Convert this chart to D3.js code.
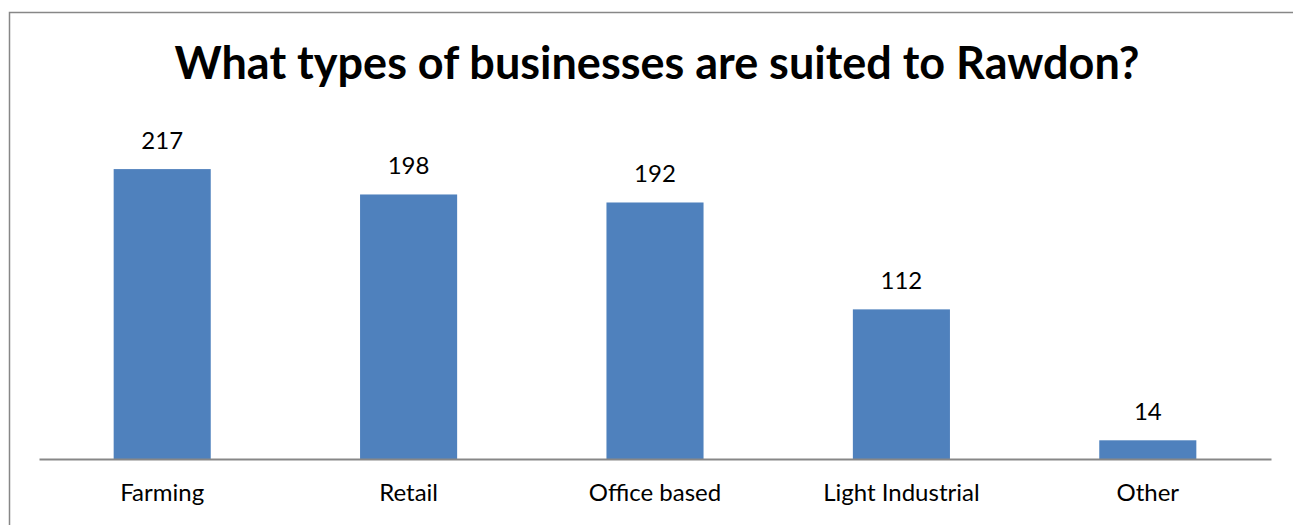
<!DOCTYPE html>
<html>
<head>
<meta charset="utf-8">
<script src="https://cdn.jsdelivr.net/npm/d3@7"></script>
<style>
  html, body { margin: 0; padding: 0; background: #fff; }
  svg { display: block; }
</style>
</head>
<body>
<svg id="chart" width="1293" height="525"></svg>
<script>
const titleText = "What types of businesses are suited to Rawdon?";
const categories = ["Farming", "Retail", "Office based", "Light Industrial", "Other"];
const responses = [217, 198, 192, 112, 14];

const W = 1293, H = 525;
const plot = { left: 39, right: 1271, bottom: 459, top: 125 };
const font = "Lato, 'Open Sans', sans-serif";

const svg = d3.select("#chart");

// chart frame
svg.append("rect")
  .attr("x", 9.5).attr("y", 12.5)
  .attr("width", W + 20).attr("height", H + 20)
  .attr("fill", "#fff")
  .attr("stroke", "#878787")
  .attr("stroke-width", 1.5);

svg.append("text")
  .attr("x", 657).attr("y", 79)
  .attr("text-anchor", "middle")
  .attr("font-family", font)
  .attr("font-weight", "bold")
  .attr("font-size", 45)
  .attr("fill", "#000")
  .text(titleText);

const x = d3.scaleBand()
  .domain(categories)
  .range([plot.left, plot.right])
  .paddingInner(0.606)
  .paddingOuter(0.303);

const y = d3.scaleLinear()
  .domain([0, 250])
  .range([plot.bottom, plot.top]);

const data = categories.map((c, i) => ({ cat: c, val: responses[i] }));

svg.append("g").selectAll("rect")
  .data(data)
  .join("rect")
  .attr("x", d => x(d.cat))
  .attr("y", d => y(d.val))
  .attr("width", x.bandwidth())
  .attr("height", d => y(0) - y(d.val))
  .attr("fill", "#4f81bd");

svg.append("g").selectAll("text")
  .data(data)
  .join("text")
  .attr("x", d => x(d.cat) + x.bandwidth() / 2)
  .attr("y", d => y(d.val) - 20)
  .attr("text-anchor", "middle")
  .attr("font-family", font)
  .attr("font-size", 24)
  .attr("fill", "#000")
  .text(d => d.val);

// category axis
const xAxis = svg.append("g")
  .attr("transform", `translate(0,${plot.bottom})`)
  .call(d3.axisBottom(x).tickSize(0).tickPadding(0));
xAxis.select(".domain")
  .attr("stroke", "#878787")
  .attr("stroke-width", 2);
xAxis.selectAll("text")
  .attr("y", 42)
  .attr("dy", 0)
  .attr("font-family", font)
  .attr("font-size", 24)
  .attr("fill", "#000");
</script>
</body>
</html>
